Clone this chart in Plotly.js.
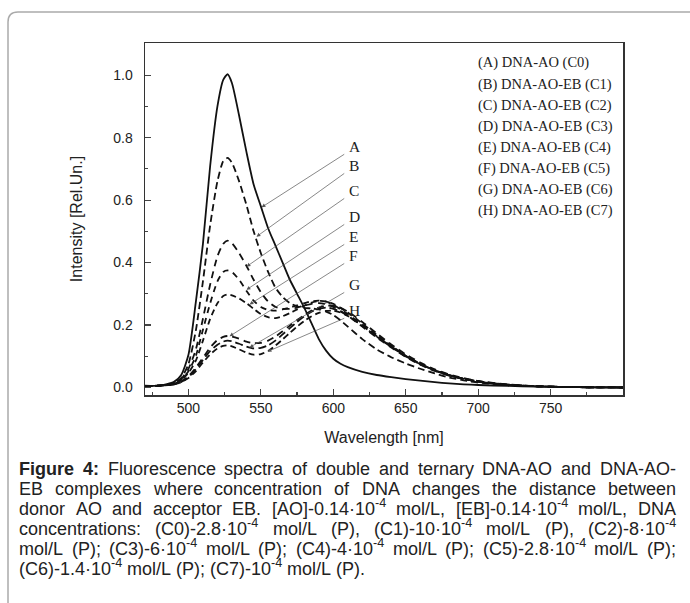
<!DOCTYPE html>
<html><head><meta charset="utf-8">
<script src="https://cdn.plot.ly/plotly-3.0.1.min.js"></script>
<style>body{margin:0;background:#fff}#chart{width:690px;height:603px}</style>
</head><body><div id="chart"></div>
<script>
// ---------------- data ----------------
const wavelength = [470,480,490,495,500,505,510,515,520,524,527,530,535,540,545,550,555,560,565,570,575,580,585,590,595,600,605,610,620,630,640,650,660,670,680,690,700,720,740,770,800];
const intensityA = [0.006,0.006,0.018,0.04,0.105,0.27,0.46,0.71,0.90,0.985,1.003,0.975,0.87,0.755,0.65,0.58,0.51,0.455,0.40,0.345,0.30,0.255,0.205,0.155,0.118,0.092,0.076,0.065,0.05,0.04,0.033,0.027,0.022,0.017,0.013,0.01,0.008,0.005,0.003,0.001,0.0];
const intensityB = [0.005,0.006,0.014,0.03,0.075,0.18,0.34,0.52,0.66,0.725,0.735,0.72,0.66,0.585,0.50,0.43,0.37,0.32,0.29,0.27,0.26,0.255,0.253,0.25,0.243,0.232,0.215,0.195,0.155,0.122,0.097,0.077,0.06,0.045,0.032,0.023,0.016,0.008,0.004,0.001,0.0];
const intensityC = [0.005,0.006,0.013,0.027,0.06,0.12,0.22,0.33,0.42,0.46,0.47,0.462,0.43,0.39,0.345,0.305,0.275,0.258,0.252,0.252,0.256,0.262,0.268,0.27,0.267,0.258,0.245,0.23,0.195,0.16,0.128,0.098,0.073,0.053,0.038,0.027,0.019,0.009,0.004,0.001,0.0];
const intensityD = [0.005,0.006,0.012,0.025,0.052,0.10,0.185,0.27,0.34,0.37,0.375,0.37,0.345,0.31,0.278,0.258,0.248,0.246,0.25,0.256,0.263,0.27,0.276,0.278,0.275,0.265,0.25,0.235,0.2,0.165,0.132,0.1,0.075,0.055,0.039,0.028,0.019,0.009,0.004,0.001,0.0];
const intensityE = [0.005,0.006,0.012,0.023,0.047,0.085,0.15,0.22,0.27,0.293,0.298,0.295,0.285,0.27,0.252,0.235,0.225,0.222,0.228,0.238,0.25,0.262,0.272,0.277,0.276,0.268,0.255,0.24,0.205,0.168,0.134,0.102,0.076,0.056,0.04,0.028,0.02,0.009,0.004,0.001,0.0];
const intensityF = [0.005,0.006,0.01,0.019,0.036,0.063,0.095,0.128,0.152,0.162,0.165,0.163,0.156,0.147,0.142,0.143,0.15,0.163,0.18,0.198,0.216,0.232,0.246,0.256,0.262,0.262,0.255,0.243,0.21,0.173,0.138,0.106,0.08,0.058,0.042,0.03,0.021,0.01,0.004,0.001,0.0];
const intensityG = [0.005,0.006,0.01,0.018,0.033,0.058,0.088,0.117,0.137,0.147,0.15,0.148,0.14,0.131,0.125,0.127,0.135,0.15,0.17,0.19,0.21,0.228,0.243,0.252,0.256,0.252,0.243,0.23,0.198,0.164,0.131,0.1,0.075,0.055,0.039,0.028,0.019,0.009,0.004,0.001,0.0];
const intensityH = [0.005,0.006,0.01,0.017,0.03,0.052,0.08,0.106,0.125,0.133,0.135,0.132,0.122,0.112,0.105,0.107,0.117,0.134,0.154,0.175,0.195,0.213,0.228,0.239,0.245,0.246,0.24,0.229,0.198,0.163,0.13,0.1,0.075,0.055,0.039,0.028,0.019,0.009,0.004,0.001,0.0];

const curveLabels = ['A','B','C','D','E','F','G','H'];
const legendLines = ['(A) DNA-AO (C0)','(B) DNA-AO-EB (C1)','(C) DNA-AO-EB (C2)','(D) DNA-AO-EB (C3)','(E) DNA-AO-EB (C4)','(F) DNA-AO-EB (C5)','(G) DNA-AO-EB (C6)','(H) DNA-AO-EB (C7)'];
// points on each curve that the label arrows point at (wavelength, intensity)
const arrowWavelength = [550.5,547,540.1,540.1,542.2,528.4,542.2,554.6];
const arrowIntensity  = [0.577,0.483,0.387,0.313,0.266,0.164,0.128,0.115];

const xTickVals = [500,550,600,650,700,750];
const xMinorVals = [475,525,575,625,675,725,775];
const yTickVals = [0,0.2,0.4,0.6,0.8,1.0];
const yTickText = ['0.0','0.2','0.4','0.6','0.8','1.0'];
const yMinorVals = [0.1,0.3,0.5,0.7,0.9,1.1];

const xTitle = 'Wavelength [nm]';
const yTitle = 'Intensity [Rel.Un.]';
const captionLines = [
 '<b>Figure</b> <b>4:</b> Fluorescence spectra of double and ternary DNA-AO and DNA-AO-',
 'EB complexes where concentration of DNA changes the distance between',
 'donor AO and acceptor EB. [AO]-0.14·10<sup>-4</sup> mol/L, [EB]-0.14·10<sup>-4</sup> mol/L, DNA',
 'concentrations: (C0)-2.8·10<sup>-4</sup> mol/L (P), (C1)-10·10<sup>-4</sup> mol/L (P), (C2)-8·10<sup>-4</sup>',
 'mol/L (P); (C3)-6·10<sup>-4</sup> mol/L (P); (C4)-4·10<sup>-4</sup> mol/L (P); (C5)-2.8·10<sup>-4</sup> mol/L (P);',
 '(C6)-1.4·10<sup>-4</sup> mol/L (P); (C7)-10<sup>-4</sup> mol/L (P).'
];

// ---------------- layout geometry ----------------
const W = 690, H = 603;
const L = 145, R = 623, T = 43, B = 395;
const px2x = p => (p - L) / (R - L);
const py2y = p => (B - p) / (B - T);

const series = [intensityA,intensityB,intensityC,intensityD,intensityE,intensityF,intensityG,intensityH];
const dashes = ['solid','7px,4px','7px,5px','6px,5px','6px,4px','7px,5px','8px,4px','6px,4px'];
const traces = series.map((s,i) => ({
  x: wavelength, y: s, type: 'scatter', mode: 'lines', name: curveLabels[i],
  line: {color: '#111', width: 1.8, dash: dashes[i], shape: 'spline', smoothing: 0.6},
  showlegend: false, hoverinfo: 'skip'
}));

const annotations = [];
// legend text block
legendLines.forEach((t,i) => annotations.push({
  xref:'paper', yref:'paper', x: px2x(476), y: py2y(63 + 21*i), xanchor:'left', yanchor:'middle',
  text: t, showarrow:false, font:{family:'Liberation Serif', size:14.5, color:'#222'}
}));
// curve labels and arrows
const labelPy = [146,165,190,216,236,255,284,310];
curveLabels.forEach((t,i) => {
  annotations.push({xref:'paper', yref:'paper', x: px2x(347), y: py2y(labelPy[i]), xanchor:'left', yanchor:'middle',
    text: t, showarrow:false, font:{family:'Liberation Serif', size:15.5, color:'#222'}});
  annotations.push({xref:'x', yref:'y', x: arrowWavelength[i], y: arrowIntensity[i],
    axref:'x', ayref:'y', ax: 500 + (346-189)/1.446, ay: (387.7 - (labelPy[i]+8))/311.7,
    text:'', showarrow:true, arrowhead:2, arrowsize:1.1, arrowwidth:0.7, arrowcolor:'#555', standoff:0});
});

// caption with justified lines
const capFs = 18, capLeft = 19, capRight = 676, capTop = 470, capStep = 20;
const cv = document.createElement('canvas').getContext('2d');
function tokWidth(tok){
  const bold = /<b>/.test(tok);
  const t = tok.replace(/<\/?b>/g,'');
  let w = 0;
  t.split(/(<sup>.*?<\/sup>)/).forEach(p => {
    if (!p) return;
    if (p.startsWith('<sup>')) { cv.font = (bold?'bold ':'') + (capFs*0.7) + 'px "Liberation Sans"'; w += cv.measureText(p.replace(/<\/?sup>/g,'')).width; }
    else { cv.font = (bold?'bold ':'') + capFs + 'px "Liberation Sans"'; w += cv.measureText(p).width; }
  });
  return w;
}
cv.font = capFs + 'px "Liberation Sans"';
const spaceW = cv.measureText(' ').width;
captionLines.forEach((line, li) => {
  const toks = line.split(' ');
  const widths = toks.map(tokWidth);
  const total = widths.reduce((a,b)=>a+b,0);
  const justify = li < captionLines.length - 1;
  const gap = justify ? (capRight - capLeft - total) / (toks.length - 1) : spaceW;
  let x = capLeft;
  toks.forEach((tok, k) => {
    annotations.push({xref:'paper', yref:'paper', x: px2x(x - 1), y: py2y(capTop + capStep*li + 10), xanchor:'left', yanchor:'bottom',
      text: tok, showarrow:false, font:{family:'Liberation Sans', size:capFs, color:'#222'}, borderpad:0});
    x += widths[k] + gap;
  });
});

// rounded border around whole figure
function borderPath(x0,y0,x1,y1,r){
  const X = px2x, Y = py2y;
  return `M ${X(x0+r)} ${Y(y0)} L ${X(x1)} ${Y(y0)} L ${X(x1)} ${Y(y1)} L ${X(x0)} ${Y(y1)} L ${X(x0)} ${Y(y0+r)} Q ${X(x0)} ${Y(y0)} ${X(x0+r)} ${Y(y0)} Z`;
}

const layout = {
  width: W, height: H,
  margin: {l: L, r: W - R, t: T, b: H - B, pad: 0},
  paper_bgcolor: '#fff', plot_bgcolor: '#fff',
  font: {family: 'Liberation Sans', color: '#222'},
  xaxis: {
    range: [470, 800], tickmode: 'array', tickvals: xTickVals, ticks: 'inside', ticklen: 6, tickwidth: 1.2,
    showline: true, mirror: true, linecolor: '#333', linewidth: 1.5, showgrid: false, zeroline: false,
    tickfont: {size: 14, color: '#222'},
    minor: {tickmode: 'array', tickvals: xMinorVals, ticks: 'inside', ticklen: 3, tickwidth: 1.2, showgrid: false},
    title: {text: xTitle, font: {size: 16, color: '#222'}, standoff: 16}
  },
  yaxis: {
    range: [-0.024, 1.103], tickmode: 'array', tickvals: yTickVals, ticktext: yTickText, ticks: 'inside', ticklen: 6, tickwidth: 1.2,
    showline: true, mirror: true, linecolor: '#333', linewidth: 1.5, showgrid: false, zeroline: false,
    tickfont: {size: 14, color: '#222'}, ticklabelstandoff: 8,
    minor: {tickmode: 'array', tickvals: yMinorVals, ticks: 'inside', ticklen: 3, tickwidth: 1.2, showgrid: false},
    title: {text: yTitle, font: {size: 16, color: '#222'}, standoff: 26}
  },
  annotations: annotations,
  shapes: [{type:'path', xref:'paper', yref:'paper', path: borderPath(8,12,705,620,10), line:{color:'#aaa', width:1.5}, fillcolor:'rgba(0,0,0,0)', layer:'below'}]
};

Plotly.newPlot('chart', traces, layout, {staticPlot: true, displayModeBar: false});
</script></body></html>
